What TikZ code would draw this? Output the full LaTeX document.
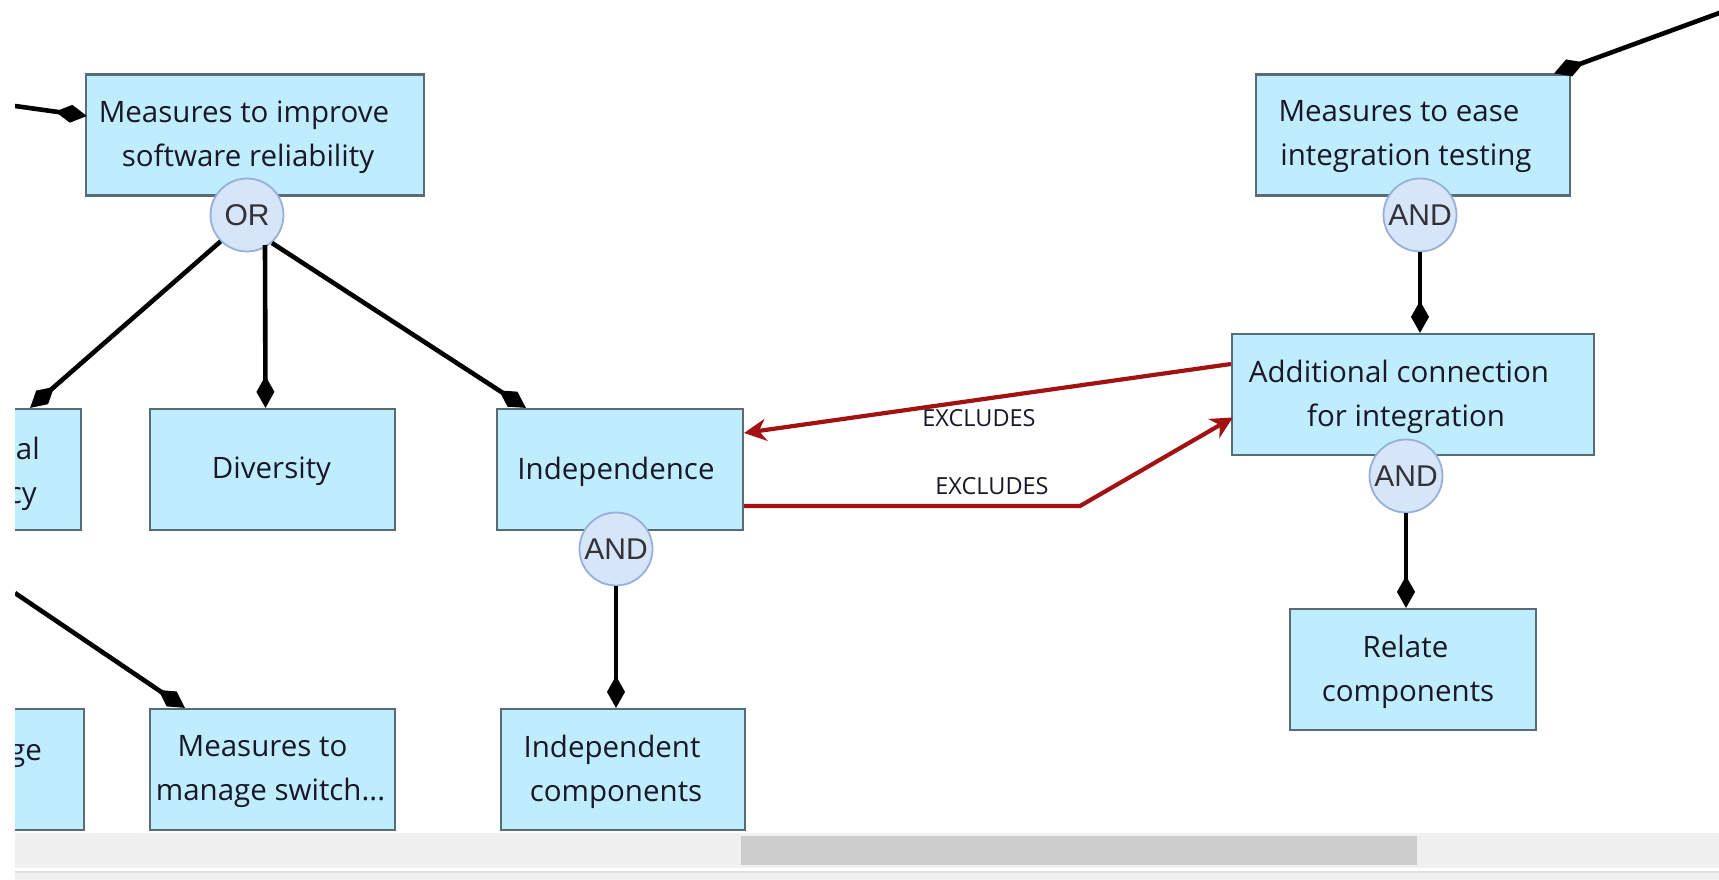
\documentclass[tikz,border=0pt]{standalone}
\usepackage{fontspec}
\setmainfont{Open Sans}
\newfontfamily\gatefont{Liberation Sans}
\usetikzlibrary{arrows.meta,calc}

\definecolor{boxfill}{RGB}{192,237,253}
\definecolor{boxline}{RGB}{88,108,118}
\definecolor{gatefill}{RGB}{214,229,248}
\definecolor{gateline}{RGB}{150,176,220}
\definecolor{gatetext}{RGB}{50,50,56}
\definecolor{txtcol}{RGB}{24,24,40}
\definecolor{exred}{RGB}{163,18,18}
\definecolor{track}{RGB}{240,240,240}
\definecolor{thumb}{RGB}{205,205,205}
\definecolor{sepline}{RGB}{222,222,222}

\tikzset{
  x=1pt, y=-1pt,
  goal/.style={draw=boxline, line width=2.2pt, fill=boxfill, minimum height=121pt, inner sep=0pt},
  goaltext/.style={text=txtcol, font=\fontsize{29.5}{44}\selectfont, align=center, inner sep=0pt},
  gate/.style={circle, draw=gateline, line width=1.8pt, fill=gatefill, minimum size=73pt, inner sep=0pt,
    text=gatetext, font=\gatefont\fontsize{30}{32}\selectfont},
  refine/.style={draw=black, line width=4.6pt, -{Diamond[length=32pt, width=18pt]}},
  excl/.style={draw=exred, line width=4.2pt, -{Stealth[length=22pt, width=22pt, inset=7pt]}},
  excltext/.style={text=txtcol, font=\fontsize{23.5}{26}\selectfont, inner sep=0pt},
}

\begin{document}
\begin{tikzpicture}
\useasboundingbox (0,0) rectangle (1719,880);
\fill[white] (0,0) rectangle (1719,880);

% scroll bar at the foot of the canvas
\fill[track] (15,833) rectangle (1719,868);
\fill[thumb] (741,836) rectangle (1417,865);
\fill[sepline] (15,871) rectangle (1719,873);
\fill[track] (15,873) rectangle (1719,880);

\begin{scope}
\clip (15,0) rectangle (1719,831);

% goals
\node[goal, minimum width=338pt] (rel) at (255,135) {};
\node[goaltext] (relt) at ($(rel.center)+(-7,2)$) {Measures to improve\kern8pt\\software reliability};

\node[goal, minimum width=245pt] (red) at (-41.5,469.5) {};
\node[goaltext, anchor=base east] (redt1) at (40,459) {al};
\node[goaltext, anchor=base east] (redt2) at (37,503) {cy};

\node[goal, minimum width=245pt] (div) at (272.5,469.5) {};
\node[goaltext] (divt) at ($(div.center)+(-1,2)$) {Diversity};

\node[goal, minimum width=246pt] (ind) at (620,469.5) {};
\node[goaltext] (indt) at ($(ind.center)+(-4,2)$) {Independence};

\node[goal, minimum width=244pt] (icomp) at (623,769.5) {};
\node[goaltext] (icompt) at ($(icomp.center)+(-7,2)$) {Independent\kern8pt\\components};

\node[goal, minimum width=245pt] (mng) at (-38.5,769.5) {};
\node[goaltext, anchor=base east] (mngt) at (42,760) {ge};

\node[goal, minimum width=245pt] (sw) at (272.5,769.5) {};
\node[goaltext] (swt) at ($(sw.center)+(-2,2)$) {Measures to\kern16pt\\manage switch...};

\node[goal, minimum width=314pt] (ease) at (1413,135) {};
\node[goaltext] (easet) at ($(ease.center)+(-7,2)$) {Measures to ease\kern14pt\\integration testing};

\node[goal, minimum width=362pt] (conn) at (1413,394.5) {};
\node[goaltext] (connt) at ($(conn.center)+(-7,2)$) {Additional connection\kern14pt\\for integration};

\node[goal, minimum width=246pt] (relc) at (1413,669.5) {};
\node[goaltext] (relct) at ($(relc.center)+(-5,2)$) {Relate\kern5pt\\components};

% decomposition gates
\node[gate] (gor) at (247,215) {OR};
\node[gate] (gind) at (616,549) {AND};
\node[gate] (gease) at (1420,215) {AND};
\node[gate] (gconn) at (1406,476) {AND};

% links to parents outside the view
\coordinate (inA) at (15,106);
\coordinate (inB) at (15,593);
\coordinate (inC) at (1722,12);
\draw[refine] (inA) -- ($(rel.west)+(2,-19)$);
\draw[refine] (inB) -- ($(sw.north west)+(36,0)$);
\draw[refine] (inC) -- ($(ease.north east)+(-17,0)$);

% refinements
\draw[refine] (gor.south west) -- ($(red.north east)+(-52,0)$);
\draw[refine] ($(gor.center)+(18,30)$) -- ($(div.north)+(-7,0)$);
\draw[refine] ($(gor.center)+(25,28)$) -- ($(ind.north west)+(30,0)$);
\draw[refine] (gind.south) -- ($(icomp.north)+(-7,0)$);
\draw[refine] (gease.south) -- ($(conn.north)+(7,0)$);
\draw[refine] (gconn.south) -- ($(relc.north)+(-7,0)$);

% exclusion links
\draw[excl] ($(conn.west)+(0,-30.5)$) -- ($(ind.east)+(0,-36.5)$);
\node[excltext] (ex1) at (979,418) {EXCLUDES};
\coordinate (bend) at (1080,506);
\draw[excl] ($(ind.east)+(0,36.5)$) -- (bend) -- ($(conn.west)+(2,23)$);
\node[excltext] (ex2) at (992,486) {EXCLUDES};
\end{scope}
\end{tikzpicture}
\end{document}
